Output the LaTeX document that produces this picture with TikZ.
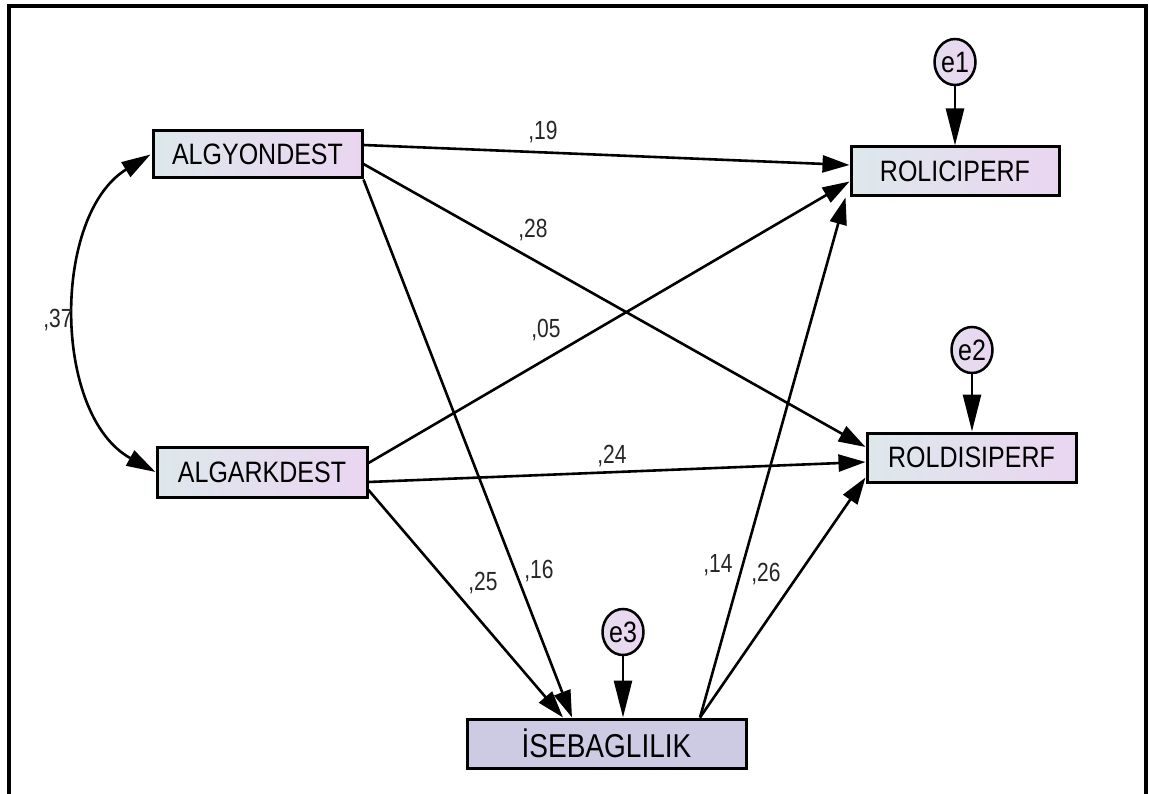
\documentclass[tikz,border=0pt]{standalone}
\usepackage{fontspec}
\usepackage{graphicx}
\setmainfont{Liberation Sans}
\usetikzlibrary{arrows.meta,shapes.geometric}
\definecolor{boxL}{HTML}{DDE8EB}
\definecolor{boxR}{HTML}{EAD5F1}
\definecolor{iseF}{HTML}{CDCBE3}
\newcommand\stretchtxt[1]{\scalebox{1}[1.18]{#1}}
\newcommand\stretchlbl[1]{\scalebox{1}[1.25]{#1}}
\begin{document}
\begin{tikzpicture}[x=1pt,y=-1pt,
  var/.style={draw, line width=3pt, left color=boxL, right color=boxR, inner sep=0pt, font=\fontsize{25}{28}\selectfont},
  err/.style={ellipse, draw, line width=2.5pt, left color=boxL!40!boxR, right color=boxR, minimum width=41pt, minimum height=46pt, inner sep=0pt, font=\fontsize{25}{28}\selectfont},
  reg/.style={-{Triangle[length=27pt,width=17pt]}, line width=2.6pt},
  earrow/.style={-{Triangle[length=37pt,width=18pt]}, line width=2.6pt},
  cov/.style={{Triangle[length=29pt,width=17pt]}-{Triangle[length=29pt,width=17pt]}, line width=2.6pt},
  lbl/.style={font=\fontsize{21}{24}\selectfont, inner sep=0pt, text=black!85}
]
\useasboundingbox (0,0) rectangle (1149,794);
\fill[white] (0,0) rectangle (1149,794);
\draw[line width=3.5pt] (9,794) -- (9,6) -- (1146,6) -- (1146,794);

% variables
\node[var, minimum width=209pt, minimum height=47pt] (yon) at (257.5,154.5) {\stretchtxt{ALGYONDEST}};
\node[var, minimum width=210pt, minimum height=50pt] (ark) at (262,472) {\stretchtxt{ALGARKDEST}};
\node[var, minimum width=208pt, minimum height=49pt] (rolici) at (955,171.5) {\stretchtxt{ROLICIPERF}};
\node[var, minimum width=209pt, minimum height=49pt] (roldisi) at (971.5,457.5) {\stretchtxt{ROLDISIPERF}};
\node[draw, line width=3pt, fill=iseF, inner sep=0pt, minimum width=279pt, minimum height=49pt, font=\fontsize{28}{32}\selectfont] (ise) at (606.5,743.5) {\stretchtxt{İSEBAGLILIK}};

% errors
\node[err] (e1) at (955,62) {\stretchtxt{e1}};
\node[err] (e2) at (972,350) {\stretchtxt{e2}};
\node[err] (e3) at (623,632) {\stretchtxt{e3}};

\draw[earrow] (e1.south) -- (rolici.north);
\draw[earrow] (e2.south) -- (e2.south |- roldisi.north);
\draw[earrow] (e3.south) -- (e3.south |- ise.north);

% regressions
\draw[reg] ([yshift=9.5pt]yon.east) -- ([yshift=6.5pt]rolici.west);
\draw[reg] ([yshift=-9.5pt]yon.east) -- ([yshift=10.5pt]roldisi.west);
\draw[reg] (yon.south east) -- ([xshift=-34.5pt]ise.north);
\draw[reg] ([yshift=9pt]ark.east) -- ([yshift=-10pt]rolici.west);
\draw[reg] ([yshift=-10pt]ark.east) -- ([yshift=-4.5pt]roldisi.west);
\draw[reg] ([yshift=-18pt]ark.east) -- ([xshift=-43.5pt]ise.north);
\coordinate (isesrc) at ([xshift=93.5pt]ise.north);
\draw[reg] (isesrc) -- ([xshift=-4pt]rolici.south west);
\draw[reg] (isesrc) -- ([yshift=-20pt]roldisi.west);

% covariance
\draw[cov] ([xshift=-1pt]yon.west) .. controls (52,215) and (52,415) .. (ark.west);

% labels
\node[lbl] (l19) at (543,132) {\stretchlbl{,19}};
\node[lbl] (l28) at (533,230) {\stretchlbl{,28}};
\node[lbl] (l05) at (546,330) {\stretchlbl{,05}};
\node[lbl] (l24) at (612,456) {\stretchlbl{,24}};
\node[lbl] (l25) at (483,583) {\stretchlbl{,25}};
\node[lbl] (l16) at (539,571) {\stretchlbl{,16}};
\node[lbl] (l14) at (718,565) {\stretchlbl{,14}};
\node[lbl] (l26) at (766,574) {\stretchlbl{,26}};
\node[lbl] (l37) at (58,320) {\stretchlbl{,37}};
\end{tikzpicture}
\end{document}
